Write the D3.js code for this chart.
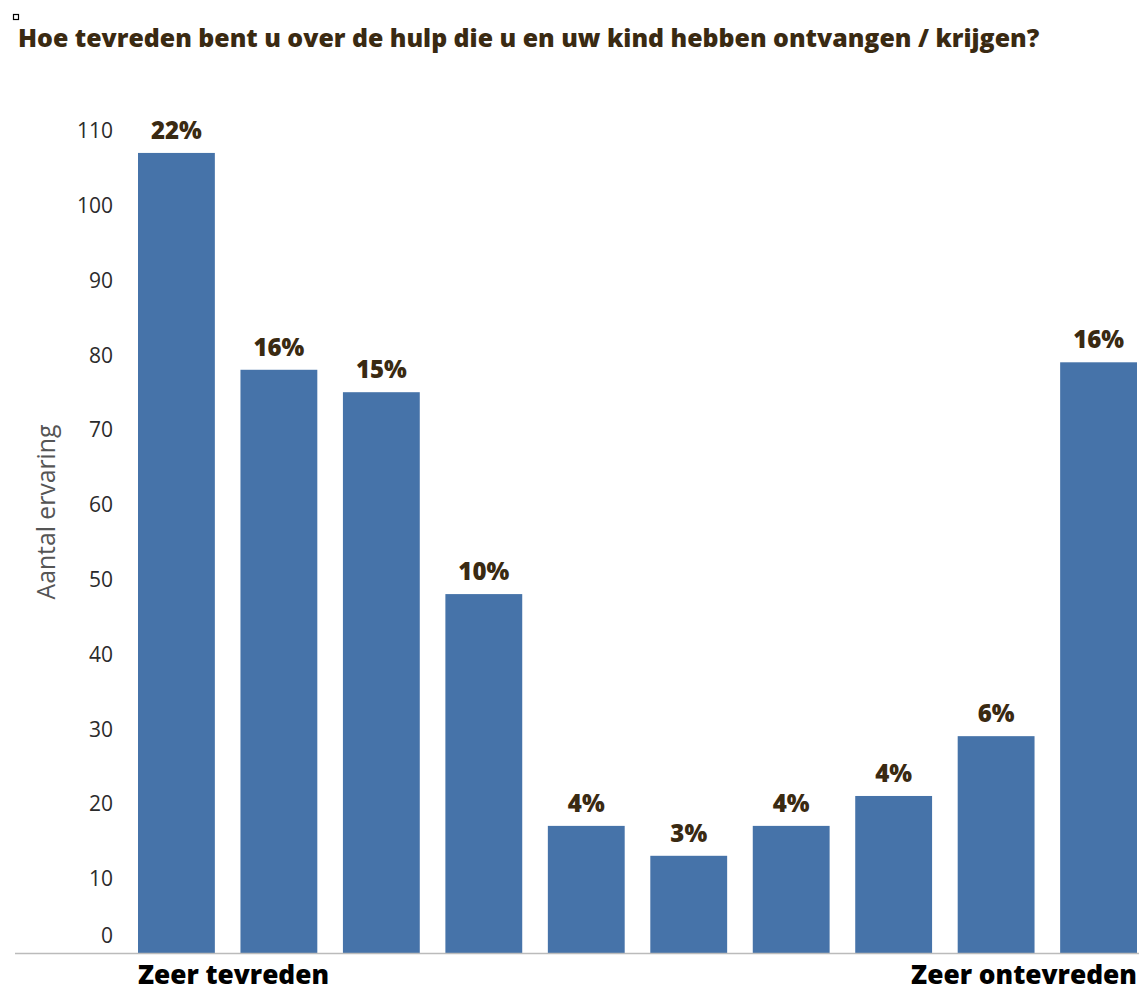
<!DOCTYPE html>
<html><head><meta charset="utf-8">
<script src="https://cdn.jsdelivr.net/npm/d3@7/dist/d3.min.js"></script>
<style>body{margin:0;background:#fff}svg{display:block}</style>
</head><body>
<svg id="c" width="1139" height="992"></svg>
<script>
const categories = ["1","2","3","4","5","6","7","8","9","10"];
const counts = [107, 78, 75, 48, 17, 13, 17, 21, 29, 79];
const percentLabels = ["22%","16%","15%","10%","4%","3%","4%","4%","6%","16%"];
const yTicks = [0,10,20,30,40,50,60,70,80,90,100,110];
const endLabels = ["Zeer tevreden","Zeer ontevreden"];
const titleText = "Hoe tevreden bent u over de hulp die u en uw kind hebben ontvangen / krijgen?";
const yTitle = "Aantal ervaring";

const FONT = "'Open Sans', 'Noto Sans', sans-serif";
const svg = d3.select("#c");
const x = d3.scaleBand().domain(categories).range([138, 1137]).paddingInner(0.25).paddingOuter(0);
const y = d3.scaleLinear().domain([0, 110]).range([953, 130.5]);

function fit(sel, w) {
  const cur = +sel.attr("font-size");
  const tw = sel.node().getComputedTextLength();
  sel.attr("font-size", cur * w / tw);
}

// small square
svg.append("rect").attr("x",13.5).attr("y",14.5).attr("width",5).attr("height",5)
  .attr("fill","none").attr("stroke","#000").attr("stroke-width",1.2);

// title
const t = svg.append("text").attr("x",18).attr("y",47)
  .attr("font-family",FONT).attr("font-weight",800)
  .attr("font-size",20).attr("fill","#3a2a12").text(titleText);
fit(t, 1022);

// y axis labels
const yAxis = d3.axisLeft(y).tickValues(yTicks).tickSize(0).tickPadding(0);
const ga = svg.append("g").attr("transform","translate(113,0)").call(yAxis);
ga.select(".domain").remove();
ga.selectAll("text").attr("font-family",FONT)
  .attr("font-size",21).attr("fill","#2b2b2b")
  .attr("dy", d => d === 0 ? "-0.5em" : "0.35em");

// y title
const yt = svg.append("text").attr("transform","translate(55,512) rotate(-90)")
  .attr("text-anchor","middle").attr("font-family",FONT)
  .attr("font-size",20).attr("fill","#555").text(yTitle);
fit(yt, 175);

// bars
svg.append("g").selectAll("rect").data(counts).join("rect")
  .attr("x",(d,i)=>x(categories[i])).attr("width",x.bandwidth())
  .attr("y",d=>y(d)).attr("height",d=>y(0)-y(d)).attr("fill","#4673a9");

// percentage labels
svg.append("g").selectAll("text").data(counts).join("text")
  .attr("x",(d,i)=>x(categories[i])+x.bandwidth()/2).attr("y",d=>y(d)-14)
  .attr("text-anchor","middle").attr("font-family",FONT)
  .attr("font-weight",800).attr("font-size",24).attr("fill","#3a2a12")
  .text((d,i)=>percentLabels[i]);

// baseline
svg.append("line").attr("x1",15).attr("x2",1139).attr("y1",953.5).attr("y2",953.5)
  .attr("stroke","#bbb").attr("stroke-width",1.5);

// end labels
const e1 = svg.append("text").attr("x",x(categories[0])).attr("y",984)
  .attr("font-family",FONT).attr("font-weight",800)
  .attr("font-size",25).attr("fill","#000").text(endLabels[0]);
fit(e1, 191);
const e2 = svg.append("text").attr("x",x(categories[9])+x.bandwidth()).attr("y",984).attr("text-anchor","end")
  .attr("font-family",FONT).attr("font-weight",800)
  .attr("font-size",25).attr("fill","#000").text(endLabels[1]);
fit(e2, 226);
</script>
</body></html>
